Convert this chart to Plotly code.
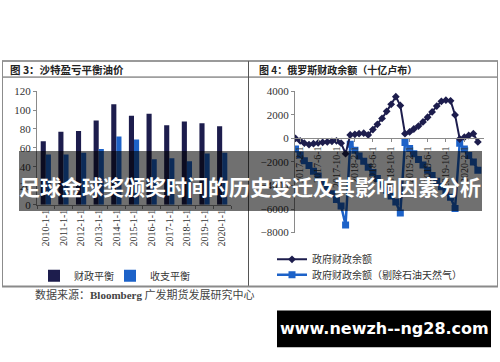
import plotly.graph_objects as go
import pandas as pd

W, H = 500, 362


def px(x):
    return x / W


def py(y):
    return 1 - y / H


# ---------------- data: left chart (Saudi breakeven oil price) ----------------
years = ["2010-1-1", "2011-1-1", "2012-1-1", "2013-1-1", "2014-1-1", "2015-1-1",
         "2016-1-1", "2017-1-1", "2018-1-1", "2019-1-1", "2020-1-1"]
fiscal_breakeven = [67, 77, 78, 89, 106, 94, 96, 84, 88, 86, 83]
external_breakeven = [53, 53, 55, 59, 72, 69, 48, 49, 46, 54, 55]

# ---------------- data: right chart (Russia budget balance, bn RUB) ----------
months = pd.date_range("2017-01-01", periods=41, freq="MS")
balance_2017 = [0, -200, -400, -520, -450, -380, -330, -300, -250, -200, -400, -1300]
balance_2018 = [300, 350, 400, 450, 300, 750, 1200, 1700, 2300, 2900, 3550, 2800]
balance_2019 = [400, 550, 800, 1050, 1400, 1800, 2250, 2750, 3150, 3250, 3200, 2000]
balance_2020 = [-50, 100, 250, 400, -300]
balance = balance_2017 + balance_2018 + balance_2019 + balance_2020

nonoil_2017 = [-900, -1400, -1900, -2300, -2800, -3200, -3700, -4200, -4700, -5200, -5750, -7350]
nonoil_2018 = [-500, -1000, -1500, -1950, -2450, -2900, -3400, -3900, -4400, -4900, -5400, -6350]
nonoil_2019 = [-350, -850, -1300, -1800, -2250, -2700, -3150, -3650, -4100, -4550, -5000, -5950]
nonoil_2020 = [-400, -900, -1450, -2000, -2700]
nonoil = nonoil_2017 + nonoil_2018 + nonoil_2019 + nonoil_2020

rx_tickvals = ["2017-02-01", "2017-06-01", "2017-10-01", "2018-02-01", "2018-06-01",
               "2018-10-01", "2019-02-01", "2019-06-01", "2019-10-01", "2020-02-01"]
rx_ticktext = ["2017-2-1", "2017-6-1", "2017-10-1", "2018-2-1", "2018-6-1",
               "2018-10-1", "2019-2-1", "2019-6-1", "2019-10-1", "2020-2-1"]

NAVY = "#1d1d4d"
BLUE = "#1d62c8"
AXC = "#8a8a8a"
SERIF = "Liberation Serif"
CJK = "Noto Sans CJK SC"

fig = go.Figure()

fig.add_trace(go.Bar(x=years, y=fiscal_breakeven, name="财政平衡",
                     marker=dict(color=NAVY, line=dict(width=0)), showlegend=True,
                     xaxis="x", yaxis="y", legend="legend"))
fig.add_trace(go.Bar(x=years, y=external_breakeven, name="收支平衡",
                     marker=dict(color=BLUE, line=dict(width=0)), showlegend=True,
                     xaxis="x", yaxis="y", legend="legend4"))

fig.add_trace(go.Scatter(x=months, y=nonoil, name="政府财政余额（剔除石油天然气）",
                         mode="lines+markers", showlegend=True,
                         line=dict(color=BLUE, width=2.5),
                         marker=dict(symbol="square", size=7, color=BLUE),
                         xaxis="x2", yaxis="y2", legend="legend3"))
fig.add_trace(go.Scatter(x=months, y=balance, name="政府财政余额",
                         mode="lines+markers", showlegend=True,
                         line=dict(color=NAVY, width=2),
                         marker=dict(symbol="diamond", size=6, color=NAVY),
                         xaxis="x2", yaxis="y2", legend="legend2"))

# left plot geometry
L_x0, L_x1 = 37, 231
L_ytop, L_ybot = 88, 205.6
# right plot geometry
R_x0, R_x1 = 294, 484
R_ytop, R_ybot = 88.3, 234.3
zero_pos = py(R_ybot) + (8000 / 12000) * (py(R_ytop) - py(R_ybot))

tickfont = dict(family=SERIF, size=11, color="#333")
legfont = dict(family=CJK, size=10, color="#333")

fig.update_layout(
    width=W, height=H,
    margin=dict(l=0, r=0, t=0, b=0),
    paper_bgcolor="white", plot_bgcolor="white",
    showlegend=True,
    barmode="group", bargap=0.42, bargroupgap=0,
    font=dict(family=CJK, color="#333"),
    xaxis=dict(domain=[px(L_x0), px(L_x1)], anchor="y", type="category",
               showline=True, linecolor=AXC, linewidth=1,
               ticks="outside", ticklen=3, tickcolor=AXC, tickson="boundaries",
               tickangle=-90, tickfont=dict(family=SERIF, size=10, color="#333"),
               showgrid=False, zeroline=False, fixedrange=True),
    yaxis=dict(domain=[py(L_ybot), py(L_ytop)], anchor="x", range=[0, 120],
               tickvals=[0, 20, 40, 60, 80, 100, 120],
               showline=True, linecolor=AXC, linewidth=1,
               ticks="outside", ticklen=3, tickcolor=AXC,
               tickfont=tickfont, showgrid=False, zeroline=False),
    xaxis2=dict(domain=[px(R_x0), px(R_x1)], anchor="free", position=zero_pos,
                type="date", range=["2016-12-22", "2020-06-11"],
                tickvals=rx_tickvals, ticktext=rx_ticktext,
                showline=True, linecolor=AXC, linewidth=1,
                ticks="outside", ticklen=3, tickcolor=AXC,
                tickangle=-90, tickfont=dict(family=SERIF, size=10, color="#333"),
                showgrid=False, zeroline=False),
    yaxis2=dict(domain=[py(R_ybot), py(R_ytop)], anchor="free", position=px(R_x0),
                range=[-8000, 4000],
                tickvals=[-8000, -6000, -4000, -2000, 0, 2000, 4000],
                showline=True, linecolor=AXC, linewidth=1,
                ticks="outside", ticklen=3, tickcolor=AXC,
                tickfont=tickfont, showgrid=False, zeroline=False),
    legend=dict(x=px(34), y=py(264), xanchor="left", yanchor="top",
                font=legfont, bgcolor="rgba(0,0,0,0)", itemwidth=30, visible=True),
    legend4=dict(x=px(110), y=py(264), xanchor="left", yanchor="top",
                 font=legfont, bgcolor="rgba(0,0,0,0)", itemwidth=30),
    legend2=dict(x=px(272), y=py(247), xanchor="left", yanchor="top",
                 font=legfont, bgcolor="rgba(0,0,0,0)", itemwidth=30),
    legend3=dict(x=px(272), y=py(263), xanchor="left", yanchor="top",
                 font=legfont, bgcolor="rgba(0,0,0,0)", itemwidth=30),
)

line_c = "#8c8c8c"
shapes = [
    dict(type="line", xref="paper", yref="paper", x0=px(2), x1=px(498), y0=py(57), y1=py(57),
         line=dict(color="#9a9a9a", width=2)),
    dict(type="line", xref="paper", yref="paper", x0=px(2), x1=px(498), y0=py(73.5), y1=py(73.5),
         line=dict(color="#555", width=1)),
    dict(type="line", xref="paper", yref="paper", x0=px(248.5), x1=px(248.5), y0=py(57), y1=py(290),
         line=dict(color="#555", width=1)),
    dict(type="line", xref="paper", yref="paper", x0=px(2.5), x1=px(2.5), y0=py(57), y1=py(290),
         line=dict(color=line_c, width=1)),
    dict(type="line", xref="paper", yref="paper", x0=px(497.5), x1=px(497.5), y0=py(57), y1=py(290),
         line=dict(color=line_c, width=1)),
    dict(type="line", xref="paper", yref="paper", x0=px(2), x1=px(498), y0=py(290), y1=py(290),
         line=dict(color="#8a8a8a", width=2)),
    # title banner overlay
    dict(type="rect", xref="paper", yref="paper", x0=px(19), x1=px(482), y0=py(212), y1=py(150),
         fillcolor="rgba(0,0,0,0.56)", line=dict(width=0), layer="above"),
    # watermark box
    dict(type="rect", xref="paper", yref="paper", x0=px(277), x1=px(491), y0=py(353), y1=py(315),
         fillcolor="black", line=dict(width=0), layer="above"),
]
fig.update_layout(shapes=shapes)

annotations = [
    dict(text="<b>图 3：沙特盈亏平衡油价</b>", x=px(8), y=py(65.5), xref="paper", yref="paper",
         xanchor="left", yanchor="middle", showarrow=False,
         font=dict(family=CJK, size=10.5, color="#222")),
    dict(text="<b>图 4：俄罗斯财政余额（十亿卢布）</b>", x=px(257), y=py(65.5), xref="paper", yref="paper",
         xanchor="left", yanchor="middle", showarrow=False,
         font=dict(family=CJK, size=10, color="#222")),
    dict(text="数据来源：<span style='font-family:Liberation Serif'><b>Bloomberg</b></span> 广发期货发展研究中心",
         x=px(33), y=py(298), xref="paper", yref="paper",
         xanchor="left", yanchor="middle", showarrow=False,
         font=dict(family=CJK, size=11, color="#444")),
    dict(text="<b>足球金球奖颁奖时间的历史变迁及其影响因素分析</b>", x=px(250), y=py(186), xref="paper", yref="paper",
         xanchor="center", yanchor="middle", showarrow=False,
         font=dict(family=CJK, size=21, color="white")),
    dict(text="<b>www.newzh--ng28.com</b>", x=px(384), y=py(334), xref="paper", yref="paper",
         xanchor="center", yanchor="middle", showarrow=False,
         font=dict(family="DejaVu Sans", size=16, color="white")),
]
fig.update_layout(annotations=annotations)

fig.write_html("out.html")
